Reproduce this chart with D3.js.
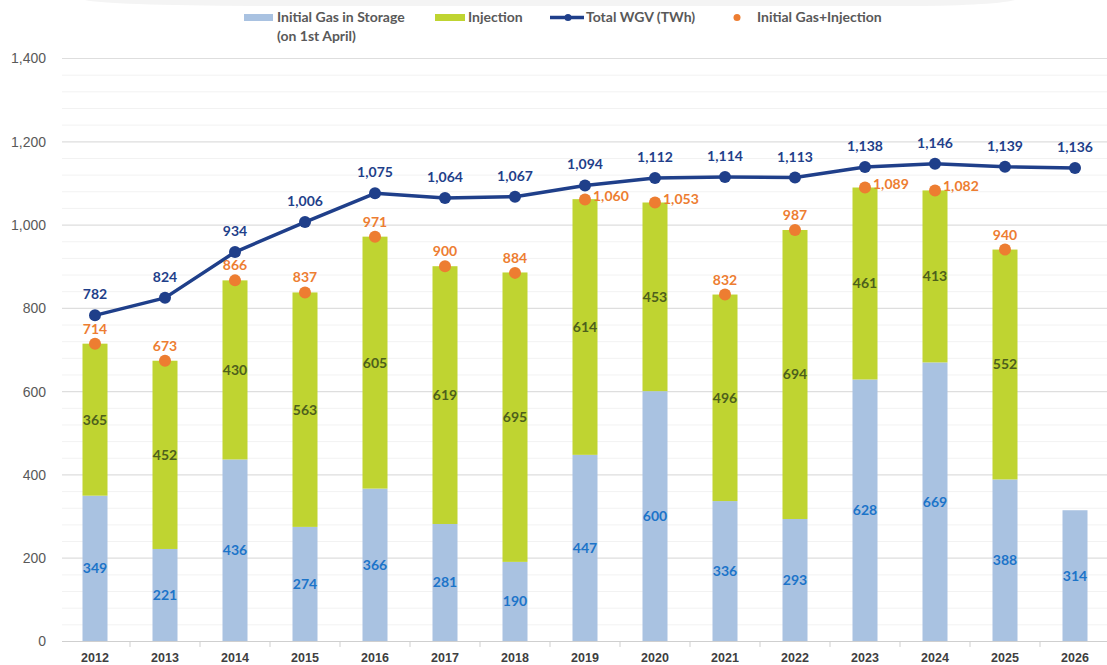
<!DOCTYPE html>
<html>
<head>
<meta charset="utf-8">
<script src="https://cdn.jsdelivr.net/npm/d3@7"></script>
<style>
  html, body { margin: 0; padding: 0; background: #fff; }
  svg { display: block; font-family: Lato, "Open Sans", sans-serif; }
</style>
</head>
<body>
<svg id="chart" width="1107" height="665"></svg>
<script>
// Gas storage: initial stock on 1st April, injection, and working gas volume (TWh)
const years = ["2012","2013","2014","2015","2016","2017","2018","2019","2020","2021","2022","2023","2024","2025","2026"];
const initialGas = [349, 221, 436, 274, 366, 281, 190, 447, 600, 336, 293, 628, 669, 388, 314];
const injection  = [365, 452, 430, 563, 605, 619, 695, 614, 453, 496, 694, 461, 413, 552, null];
const initPlusInj = [714, 673, 866, 837, 971, 900, 884, 1060, 1053, 832, 987, 1089, 1082, 940, null];
const totalWGV   = [782, 824, 934, 1006, 1075, 1064, 1067, 1094, 1112, 1114, 1113, 1138, 1146, 1139, 1136];
const yTicks = [0, 200, 400, 600, 800, 1000, 1200, 1400];
// years whose combined label sits to the right of its marker
const sideLabelYears = ["2019", "2020", "2023", "2024"];

const svg = d3.select("#chart");
const fmt = d3.format(",");

const x = d3.scaleBand().domain(years).range([60, 1110]).paddingInner(0).paddingOuter(0);
const y = d3.scaleLinear().domain([0, 1400]).range([641, 58]);
const barW = 25;
const cx = d => x(d) + x.bandwidth() / 2;

// faint header shape across the top
svg.append("path")
  .attr("d", "M85,0 Q110,6 300,6 L900,6 Q990,6 1015,0 Z")
  .attr("fill", "#f4f4f4");

// minor gridlines every 40, major every 200
const grid = svg.append("g");
grid.selectAll("line.minor")
  .data(d3.range(40, 1400, 40).filter(v => v % 200 !== 0))
  .join("line")
  .attr("x1", 62).attr("x2", 1107)
  .attr("y1", d => y(d) + 0.5).attr("y2", d => y(d) + 0.5)
  .attr("stroke", "#f2f2f2").attr("stroke-width", 1);
grid.selectAll("line.major")
  .data(yTicks.filter(v => v > 0))
  .join("line")
  .attr("x1", 62).attr("x2", 1107)
  .attr("y1", d => y(d) + 0.5).attr("y2", d => y(d) + 0.5)
  .attr("stroke", "#dedede").attr("stroke-width", 1.2);

// y axis labels
const yAxis = d3.axisLeft(y).tickValues(yTicks).tickFormat(fmt).tickSize(0).tickPadding(0);
const yg = svg.append("g").attr("transform", "translate(46,0)").call(yAxis);
yg.select(".domain").remove();
yg.selectAll("text")
  .attr("fill", "#595959").attr("font-size", 14).attr("dy", "0.35em");

// x axis with ticks at band boundaries
const xAxis = d3.axisBottom(x).tickSize(0).tickPadding(12);
const xg = svg.append("g").attr("transform", "translate(0,641)").call(xAxis);
xg.select(".domain").attr("d", "M62,0.5H1107").attr("stroke", "#cfcfcf");
xg.selectAll("text")
  .attr("fill", "#404040").attr("font-size", 12.5).attr("font-weight", 700);
xg.selectAll("line.bound")
  .data(years.slice(1))
  .join("line")
  .attr("class", "bound")
  .attr("x1", d => x(d)).attr("x2", d => x(d))
  .attr("y1", 0).attr("y2", 6)
  .attr("stroke", "#cfcfcf");

// stacked bars
const rows = years.map((yr, i) => ({ yr, init: initialGas[i], inj: injection[i], sum: initPlusInj[i], wgv: totalWGV[i] }));

svg.append("g").selectAll("rect")
  .data(rows)
  .join("rect")
  .attr("x", d => cx(d.yr) - barW / 2)
  .attr("width", barW)
  .attr("y", d => y(d.init))
  .attr("height", d => y(0) - y(d.init))
  .attr("fill", "#a9c2e1");

svg.append("g").selectAll("rect")
  .data(rows.filter(d => d.inj != null))
  .join("rect")
  .attr("x", d => cx(d.yr) - barW / 2)
  .attr("width", barW)
  .attr("y", d => y(d.init + d.inj))
  .attr("height", d => y(d.init) - y(d.init + d.inj))
  .attr("fill", "#bfd431");

// segment labels
svg.append("g").selectAll("text")
  .data(rows)
  .join("text")
  .attr("x", d => cx(d.yr))
  .attr("y", d => y(d.init / 2))
  .attr("dy", "0.35em")
  .attr("text-anchor", "middle")
  .attr("font-size", 14).attr("font-weight", 700)
  .attr("fill", "#1c74c9")
  .text(d => fmt(d.init));

svg.append("g").selectAll("text")
  .data(rows.filter(d => d.inj != null))
  .join("text")
  .attr("x", d => cx(d.yr))
  .attr("y", d => y(d.init + d.inj / 2))
  .attr("dy", "0.35em")
  .attr("text-anchor", "middle")
  .attr("font-size", 14).attr("font-weight", 700)
  .attr("fill", "#4d5f1c")
  .text(d => fmt(d.inj));

// total WGV line
const line = d3.line().x(d => cx(d.yr)).y(d => y(d.wgv));
svg.append("path")
  .datum(rows)
  .attr("d", line)
  .attr("fill", "none")
  .attr("stroke", "#1f3f8a")
  .attr("stroke-width", 3.5)
  .attr("stroke-linejoin", "round");
svg.append("g").selectAll("circle")
  .data(rows)
  .join("circle")
  .attr("cx", d => cx(d.yr)).attr("cy", d => y(d.wgv))
  .attr("r", 6)
  .attr("fill", "#1f3f8a");
svg.append("g").selectAll("text")
  .data(rows)
  .join("text")
  .attr("x", d => cx(d.yr))
  .attr("y", d => y(d.wgv) - 16)
  .attr("text-anchor", "middle")
  .attr("font-size", 14).attr("font-weight", 700)
  .attr("fill", "#1f3f8a")
  .text(d => fmt(d.wgv));

// initial gas + injection markers
const sums = rows.filter(d => d.sum != null);
svg.append("g").selectAll("circle")
  .data(sums)
  .join("circle")
  .attr("cx", d => cx(d.yr)).attr("cy", d => y(d.sum))
  .attr("r", 6)
  .attr("fill", "#ed7d31");
svg.append("g").selectAll("text")
  .data(sums)
  .join("text")
  .attr("x", d => sideLabelYears.includes(d.yr) ? cx(d.yr) + 8 : cx(d.yr))
  .attr("y", d => sideLabelYears.includes(d.yr) ? y(d.sum) + 1 : y(d.sum) - 10)
  .attr("text-anchor", d => sideLabelYears.includes(d.yr) ? "start" : "middle")
  .attr("font-size", 14).attr("font-weight", 700)
  .attr("fill", "#ed7d31")
  .text(d => fmt(d.sum));

// legend
const lg = svg.append("g").attr("font-size", 14).attr("font-weight", 700).attr("fill", "#595959");
lg.append("rect").attr("x", 244).attr("y", 14).attr("width", 29).attr("height", 7).attr("fill", "#a9c2e1");
lg.append("text").attr("x", 277).attr("y", 22).text("Initial Gas in Storage");
lg.append("text").attr("x", 277).attr("y", 41).text("(on 1st April)");
lg.append("rect").attr("x", 435).attr("y", 14).attr("width", 30).attr("height", 7).attr("fill", "#bfd431");
lg.append("text").attr("x", 468).attr("y", 22).text("Injection");
lg.append("line").attr("x1", 550).attr("x2", 584).attr("y1", 17.5).attr("y2", 17.5)
  .attr("stroke", "#1f3f8a").attr("stroke-width", 3.5);
lg.append("circle").attr("cx", 568).attr("cy", 17.5).attr("r", 3.5).attr("fill", "#1f3f8a");
lg.append("text").attr("x", 586).attr("y", 22).text("Total WGV (TWh)");
lg.append("circle").attr("cx", 737).attr("cy", 17.5).attr("r", 3.5).attr("fill", "#ed7d31");
lg.append("text").attr("x", 757).attr("y", 22).text("Initial Gas+Injection");
</script>
</body>
</html>
